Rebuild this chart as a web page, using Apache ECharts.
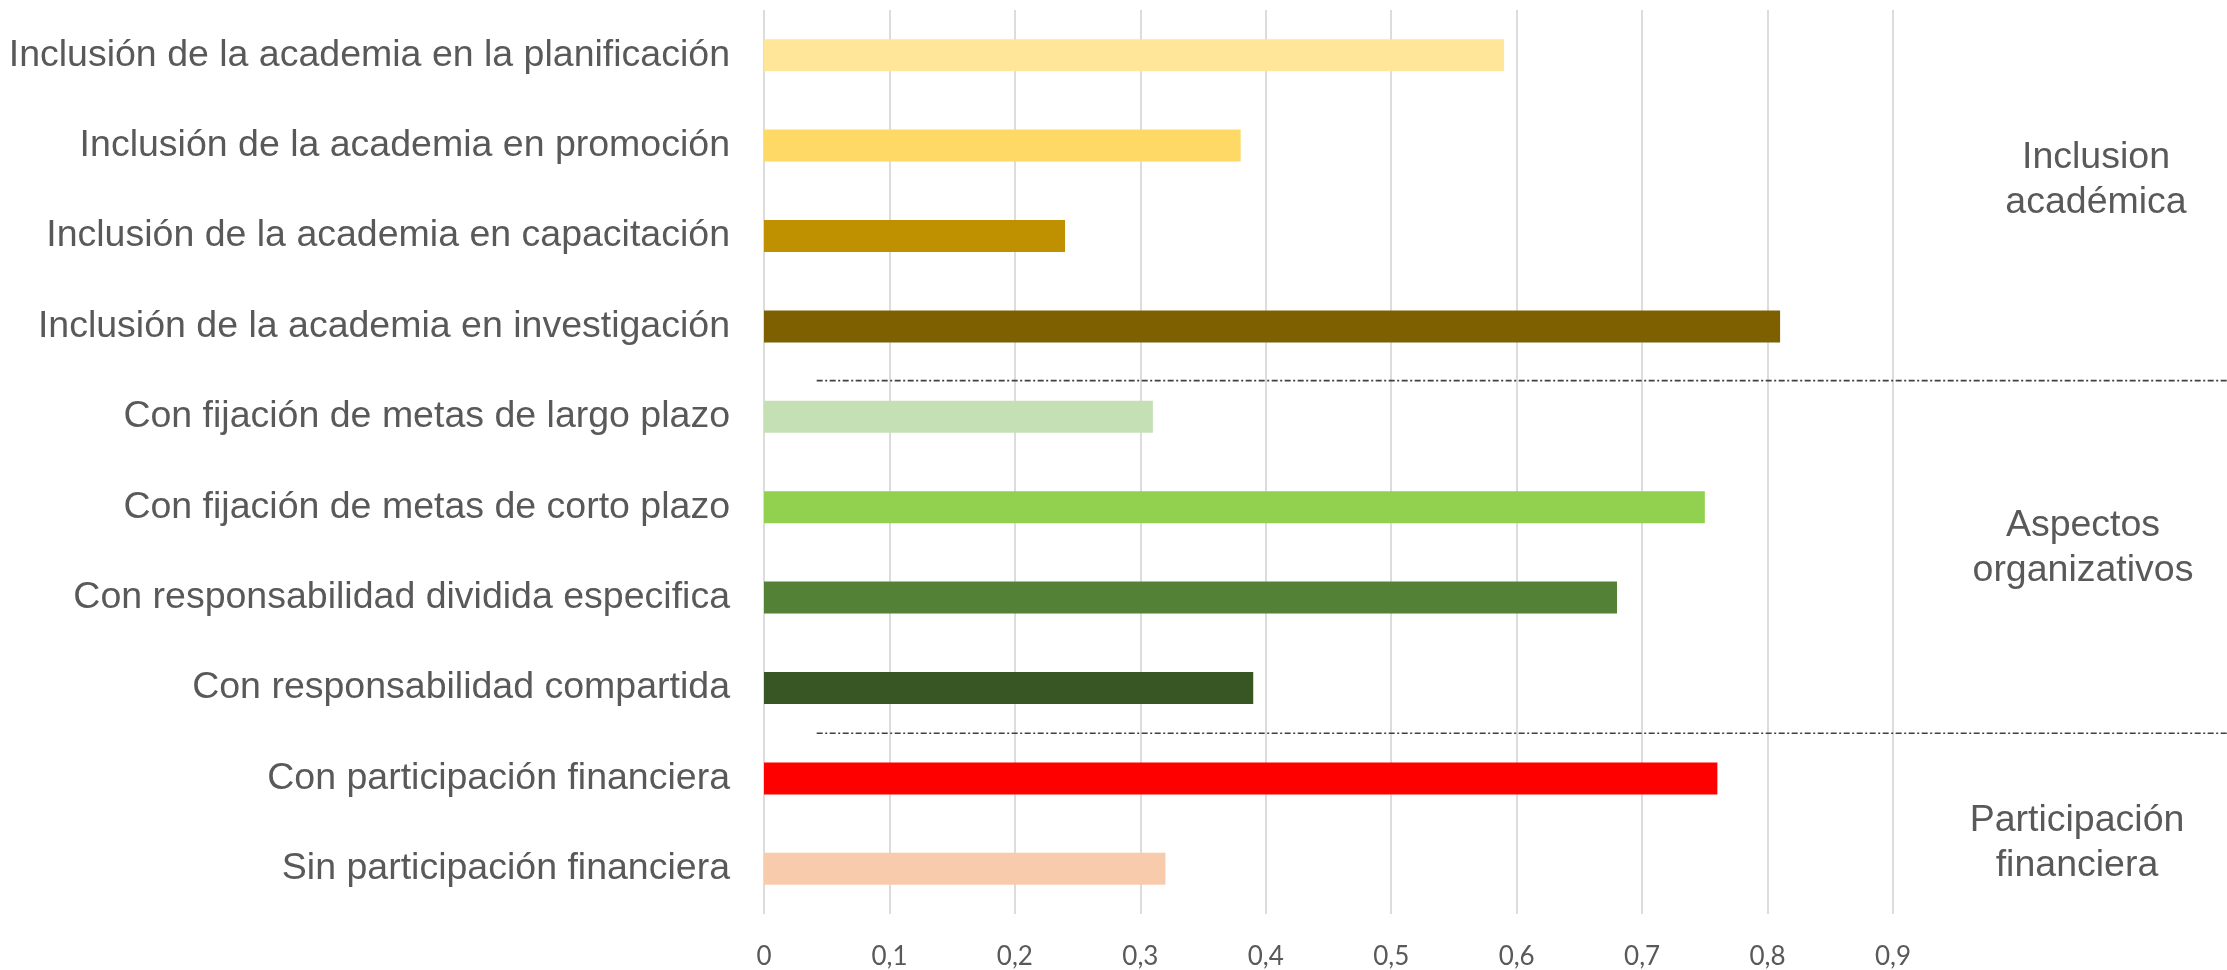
<!DOCTYPE html>
<html>
<head>
<meta charset="utf-8">
<script src="https://cdn.jsdelivr.net/npm/echarts@6/dist/echarts.min.js"></script>
<style>
html,body{margin:0;padding:0;background:#fff;}
#chart{width:2227px;height:970px;}
</style>
</head>
<body>
<div id="chart"></div>
<script>
const categories = [
  'Inclusión de la academia en la planificación',
  'Inclusión de la academia en promoción',
  'Inclusión de la academia en capacitación',
  'Inclusión de la academia en investigación',
  'Con fijación de metas de largo plazo',
  'Con fijación de metas de corto plazo',
  'Con responsabilidad dividida especifica',
  'Con responsabilidad compartida',
  'Con participación financiera',
  'Sin participación financiera'
];
const values = [0.59, 0.38, 0.24, 0.81, 0.31, 0.75, 0.68, 0.39, 0.76, 0.32];
const barColors = ['#FFE699','#FFD966','#BF9000','#7F6000','#C5E0B4','#92D050','#538135','#375623','#FF0000','#F8CBAD'];
const groupLabels = ['Inclusion\nacadémica', 'Aspectos\norganizativos', 'Participación\nfinanciera'];
const groupFirst = [0, 4, 8];
const groupLast = [3, 7, 9];
const xMin = 0, xMax = 0.9, xStep = 0.1;

const chart = echarts.init(document.getElementById('chart'));
const textColor = '#595959';

chart.setOption({
  animation: false,
  backgroundColor: '#fff',
  grid: { left: 764, right: 334, top: 10, bottom: 55, containLabel: false },
  xAxis: {
    type: 'value', min: xMin, max: xMax, interval: xStep,
    axisLine: { show: false }, axisTick: { show: false },
    splitLine: { show: true, lineStyle: { color: '#D9D9D9', width: 1.8 } },
    axisLabel: {
      color: textColor, fontFamily: 'Lato', fontSize: 26, margin: 30,
      formatter: v => (Math.round(v * 10) / 10).toString().replace('.', ',')
    }
  },
  yAxis: {
    type: 'category', data: categories, inverse: true,
    axisLine: { show: false }, axisTick: { show: false }, splitLine: { show: false },
    axisLabel: { color: textColor, fontFamily: 'Liberation Sans, Arial', fontSize: 37.5, margin: 34 }
  },
  series: [{
    type: 'bar',
    data: values.map((v, i) => ({ value: v, itemStyle: { color: barColors[i] } })),
    barWidth: 32
  }]
});

function placeDecorations() {
  const rightX = chart.getWidth();
  const els = [];
  const xCenters = [2096, 2083, 2077];
  const yOffsets = [-11, -4, 20];
  groupLabels.forEach((lbl, g) => {
    const y1 = chart.convertToPixel({ yAxisIndex: 0 }, categories[groupFirst[g]]);
    const y2 = chart.convertToPixel({ yAxisIndex: 0 }, categories[groupLast[g]]);
    els.push({
      type: 'text',
      x: xCenters[g], y: (y1 + y2) / 2 + yOffsets[g],
      style: {
        text: lbl, fill: textColor, fontFamily: 'Liberation Sans, Arial', fontSize: 37.5,
        lineHeight: 45, align: 'center', verticalAlign: 'middle'
      }
    });
  });
  const sepOffsets = [9, 0];
  const startX = chart.convertToPixel({ xAxisIndex: 0 }, 0.042);
  [0, 1].forEach(k => {
    const ya = chart.convertToPixel({ yAxisIndex: 0 }, categories[groupLast[k]]);
    const yb = chart.convertToPixel({ yAxisIndex: 0 }, categories[groupFirst[k + 1]]);
    const y = (ya + yb) / 2 + sepOffsets[k];
    els.push({
      type: 'line',
      shape: { x1: startX, y1: y, x2: rightX, y2: y },
      style: { stroke: '#404040', lineWidth: 1.6, lineDash: [6, 2.5, 2, 2.5] }
    });
  });
  chart.setOption({ graphic: els });
}
placeDecorations();
</script>
</body>
</html>
